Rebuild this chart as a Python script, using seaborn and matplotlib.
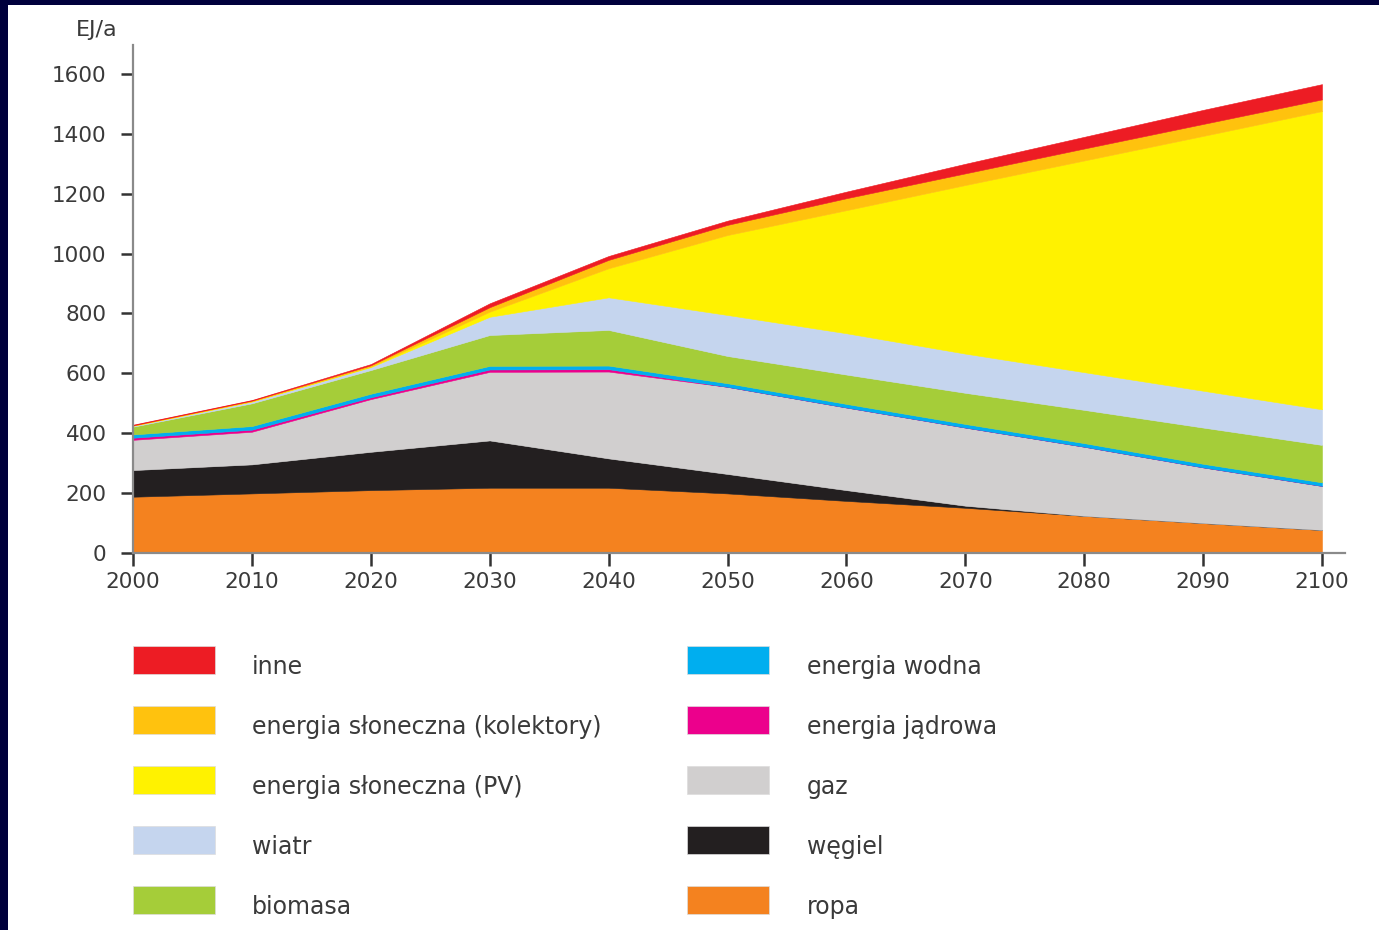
import matplotlib
matplotlib.use("Agg")
import matplotlib.pyplot as plt
from matplotlib.patches import Rectangle
import seaborn as sns
import numpy as np

years = [2000, 2010, 2020, 2030, 2040, 2050, 2060, 2070, 2080, 2090, 2100]

ropa = [188, 199, 210, 218, 218, 199, 174, 151, 124, 100, 77]
wegiel = [89, 97, 128, 158, 98, 65, 36, 7, 0, 0, 0]
gaz = [101, 109, 176, 229, 290, 291, 276, 261, 231, 186, 147]
jadrowa = [7, 7, 6, 8, 8, 0, 0, 0, 0, 0, 0]
wodna = [11, 12, 12, 12, 12, 12, 12, 12, 12, 12, 12]
biomasa = [26, 76, 79, 103, 119, 91, 98, 104, 111, 121, 125]
wiatr = [3, 6, 10, 61, 109, 137, 138, 131, 126, 123, 119]
pv = [0.5, 1, 2, 17, 97, 267, 411, 563, 707, 851, 996]
kolektory = [1, 2, 4, 15, 28, 34, 40, 39, 40, 40, 39]
inne = [2, 2, 4, 13, 13, 14, 22, 32, 39, 47, 51]

series = [ropa, wegiel, gaz, jadrowa, wodna, biomasa, wiatr, pv, kolektory, inne]
labels = ["ropa", "węgiel", "gaz", "energia jądrowa", "energia wodna", "biomasa",
          "wiatr", "energia słoneczna (PV)", "energia słoneczna (kolektory)", "inne"]
colors = ["#F4821F", "#231F20", "#D1CFCF", "#EC008C", "#00AEEF", "#A5CD39",
          "#C5D5EE", "#FFF200", "#FFC20E", "#ED1C24"]

yticks = [0, 200, 400, 600, 800, 1000, 1200, 1400, 1600]
xticks = years

sns.set_theme(style="white")
plt.rcParams['font.family'] = ['DejaVu Sans']

W, H = 1379, 930
fig = plt.figure(figsize=(W / 100, H / 100), dpi=100)
fig.patch.set_facecolor("#00003C")
bg = Rectangle((8 / W, 0), (W - 8) / W, (H - 5) / H,
               transform=fig.transFigure, facecolor="white",
               edgecolor="none", zorder=-10)
fig.patches.append(bg)

ax = fig.add_axes([133 / W, 1 - 553 / H, (1345 - 133) / W, (553 - 45) / H])
ax.set_facecolor("none")
polys = ax.stackplot(years, *series, colors=colors, linewidth=0.4)
for p, c in zip(polys, colors):
    p.set_edgecolor(c)

ax.set_xlim(2000, 2000 + (1345 - 133) / 11.89)
ax.set_ylim(0, (553 - 45) / 0.2994)
ax.set_xticks(xticks)
ax.set_yticks(yticks)
ax.set_xticklabels([str(x) for x in xticks])
ax.set_yticklabels([str(y) for y in yticks])
for s in ["top", "right"]:
    ax.spines[s].set_visible(False)
for s in ["left", "bottom"]:
    ax.spines[s].set_color("#8a8a8a")
    ax.spines[s].set_linewidth(1.6)
ax.tick_params(axis="both", which="both", direction="out", length=9, width=1.8,
               color="#333333", labelcolor="#3a3a3a", labelsize=15.5)
ax.tick_params(axis="y", pad=10, left=True)
ax.tick_params(axis="x", pad=5, bottom=True)

fig.text(76 / W, 1 - 30 / H, "EJ/a", fontsize=16, color="#3a3a3a",
         ha="left", va="center")

# legend (manual layout, two columns)
legend_order = [9, 8, 7, 6, 5, 4, 3, 2, 1, 0]
col_x = [133, 687]
text_x = [252, 807]
row_y = [660, 720, 780, 840, 900]
for i, idx in enumerate(legend_order):
    col = i // 5
    row = i % 5
    x0 = col_x[col]
    yc = row_y[row]
    fig.patches.append(Rectangle((x0 / W, 1 - (yc + 14) / H), 82 / W, 28 / H,
                                 transform=fig.transFigure,
                                 facecolor=colors[idx], edgecolor="#dddddd",
                                 linewidth=0.5, zorder=2))
    fig.text(text_x[col] / W, 1 - (yc + 7) / H, labels[idx], fontsize=17,
             color="#3a3a3a", ha="left", va="center")

fig.savefig("out.png", dpi=100, facecolor=fig.get_facecolor())
